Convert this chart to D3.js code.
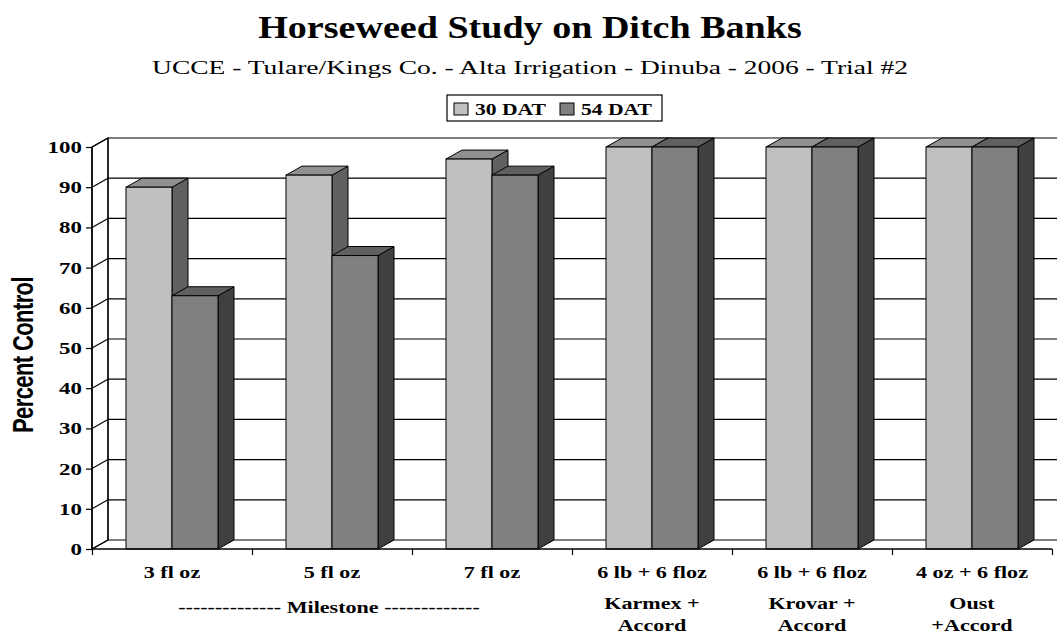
<!DOCTYPE html>
<html>
<head>
    <script src="https://d3js.org/d3.v7.min.js"></script>
    <style>
        body { margin: 0; background: #fff; }
        text { font-family: "Liberation Serif", "Times New Roman", serif; }
    </style>
</head>
<body>
    <svg width="1057" height="637"></svg>
    <script>
        const categories = ["3 fl oz", "5 fl oz", "7 fl oz", "6 lb + 6 floz", "6 lb + 6 floz", "4 oz + 6 floz"];
        const subLabels = [null, null, null, ["Karmex +", "Accord"], ["Krovar +", "Accord"], ["Oust", "+Accord"]];
        const series = ["30 DAT", "54 DAT"];
        const dat30 = [90, 93, 97, 100, 100, 100];
        const dat54 = [63, 73, 93, 100, 100, 100];
        const yTicks = [0, 10, 20, 30, 40, 50, 60, 70, 80, 90, 100];

        const width = 1057, height = 637;
        const plotLeft = 92, plotRight = 1052, plotBottom = 549, plotTop = 147;
        const dx = 16, dy = 9; // depth of the 3d box
        const SX = 1.3; // the original picture is stretched sideways

        const faces = {
            "30 DAT": { front: "#c0c0c0", top: "#909090", side: "#606060" },
            "54 DAT": { front: "#808080", top: "#606060", side: "#404040" }
        };

        const svg = d3.select("svg");

        // text placed at (x, y) and widened by sx
        function label(parent, x, y, str, size, bold, sx) {
            return parent.append("text")
                .attr("transform", `translate(${x},${y}) scale(${sx},1)`)
                .attr("text-anchor", "middle")
                .style("font-size", size + "px")
                .style("font-weight", bold ? "bold" : "normal")
                .text(str);
        }

        const x0 = d3.scaleBand().domain(d3.range(categories.length)).range([plotLeft, plotRight]);
        const x1 = d3.scaleBand().domain(series).range([0, 92]);
        const y = d3.scaleLinear().domain([0, 100]).range([plotBottom, plotTop]);
        const groupOffset = (x0.bandwidth() - 92) / 2;

        // title
        label(svg, 530, 38, "Horseweed Study on Ditch Banks", 32, true, 1.19);
        label(svg, 530, 73.5, "UCCE - Tulare/Kings Co. - Alta Irrigation - Dinuba - 2006 - Trial #2", 19.5, false, 1.41);

        // walls
        const walls = svg.append("g").attr("stroke", "#000").attr("stroke-width", 1.2).attr("fill", "none");
        walls.append("path")
            .attr("fill", "#fff")
            .attr("d", `M${plotLeft},${plotBottom} L${plotLeft + dx},${plotBottom - dy} L${plotLeft + dx},${y(100) - dy} L${plotLeft},${y(100)} Z`);

        yTicks.forEach(t => {
            walls.append("line")
                .attr("x1", plotLeft).attr("y1", y(t))
                .attr("x2", plotLeft + dx).attr("y2", y(t) - dy);
            walls.append("line")
                .attr("x1", plotLeft + dx).attr("y1", y(t) - dy)
                .attr("x2", plotRight + dx).attr("y2", y(t) - dy);
        });
        walls.append("line")
            .attr("x1", plotLeft + dx).attr("y1", y(0) - dy)
            .attr("x2", plotLeft + dx).attr("y2", y(100) - dy);

        // bars
        const barData = [];
        categories.forEach((c, i) => {
            barData.push({ i: i, s: "30 DAT", v: dat30[i] });
            barData.push({ i: i, s: "54 DAT", v: dat54[i] });
        });

        const bars = svg.append("g").attr("stroke", "#000").attr("stroke-width", 1);
        barData.forEach(d => {
            const bx = x0(d.i) + groupOffset + x1(d.s);
            const bw = x1.bandwidth();
            const by = y(d.v);
            const g = bars.append("g");
            g.append("path")
                .attr("fill", faces[d.s].side)
                .attr("d", `M${bx + bw},${plotBottom} L${bx + bw + dx},${plotBottom - dy} L${bx + bw + dx},${by - dy} L${bx + bw},${by} Z`);
            g.append("path")
                .attr("fill", faces[d.s].top)
                .attr("d", `M${bx},${by} L${bx + dx},${by - dy} L${bx + bw + dx},${by - dy} L${bx + bw},${by} Z`);
            g.append("rect")
                .attr("x", bx).attr("y", by)
                .attr("width", bw).attr("height", plotBottom - by)
                .attr("fill", faces[d.s].front);
        });

        // axes
        const yAxis = svg.append("g")
            .attr("transform", `translate(${plotLeft},0)`)
            .call(d3.axisLeft(y).tickValues(yTicks).tickSize(6));
        yAxis.select(".domain").attr("stroke-width", 1.5).attr("d", `M0,${plotBottom}V${plotTop}`);
        yAxis.selectAll("line").attr("stroke-width", 1.2);
        yAxis.selectAll("text")
            .attr("x", -10 / 1.35)
            .attr("transform", "scale(1.35,1)")
            .style("font-family", "Liberation Serif, serif")
            .style("font-size", "17px").style("font-weight", "bold")
            .attr("fill", "#000");

        const xTickScale = d3.scaleLinear().domain([0, categories.length]).range([plotLeft, plotRight]);
        const xAxis = svg.append("g")
            .attr("transform", `translate(0,${plotBottom})`)
            .call(d3.axisBottom(xTickScale).tickValues(d3.range(categories.length + 1)).tickSize(6).tickFormat(""));
        xAxis.select(".domain").attr("stroke-width", 1.5).attr("d", `M${plotLeft},0H${plotRight}`);
        xAxis.selectAll("line").attr("stroke-width", 1.2);

        // category labels
        const labels = svg.append("g");
        categories.forEach((c, i) => {
            const cx = x0(i) + x0.bandwidth() / 2;
            label(labels, cx, 577.5, c, 17, true, SX);
            if (subLabels[i]) {
                label(labels, cx, 609, subLabels[i][0], 17, true, SX);
                label(labels, cx, 631, subLabels[i][1], 17, true, SX);
            }
        });
        label(labels, x0(1) + x0.bandwidth() / 2 - 3, 613, "-------------- Milestone -------------", 17, true, SX);

        // y label
        svg.append("text")
            .attr("transform", `translate(33,355) scale(${SX},1) rotate(-90)`)
            .attr("text-anchor", "middle")
            .style("font-family", "Liberation Sans, Arial, sans-serif")
            .style("font-size", "22px").style("font-weight", "bold")
            .style("letter-spacing", "-0.6px")
            .text("Percent Control");

        // legend
        const legend = svg.append("g").attr("transform", "translate(447,95)");
        legend.append("rect")
            .attr("width", 215).attr("height", 26)
            .attr("fill", "#fff").attr("stroke", "#000").attr("stroke-width", 1.2);
        const item = legend.selectAll(".item").data(series).enter().append("g")
            .attr("transform", (d, i) => `translate(${7 + i * 106},0)`);
        item.append("rect")
            .attr("x", 0).attr("y", 8).attr("width", 14).attr("height", 12)
            .attr("fill", d => faces[d].front).attr("stroke", "#000");
        item.append("text")
            .attr("transform", "translate(21,20) scale(1.27,1)")
            .style("font-size", "17px").style("font-weight", "bold")
            .text(d => d);
    </script>
</body>
</html>
